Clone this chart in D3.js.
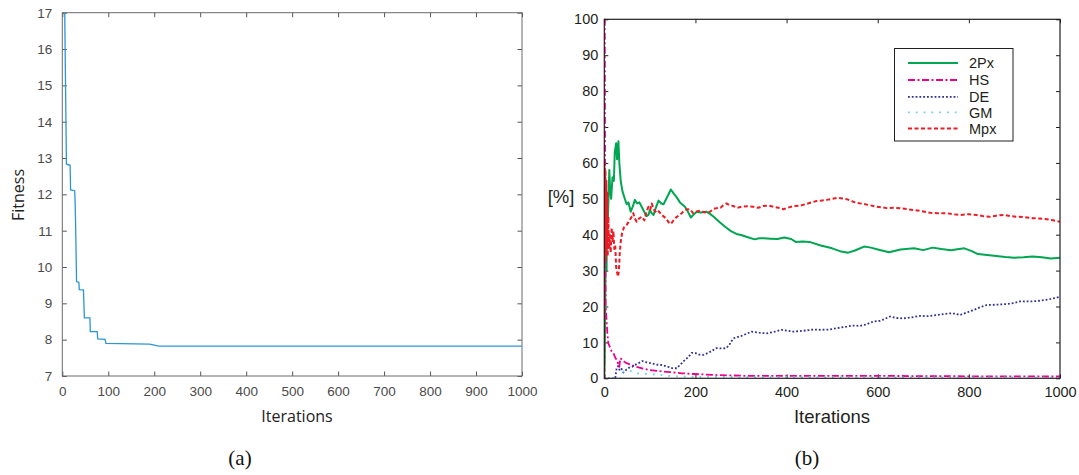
<!DOCTYPE html>
<html><head><meta charset="utf-8">
<script src="https://cdn.jsdelivr.net/npm/d3@7"></script>
<style>html,body{margin:0;padding:0;background:#fff;}svg{display:block;}</style>
</head><body>
<script>
// ---------- Data: panel (a) ----------
const fitIter = [5, 9, 17, 18, 27, 28, 29, 31, 36, 37, 46, 48, 60, 61, 76, 77, 93, 95, 190, 210, 1000];
const fitVal  = [17.3, 12.83, 12.8, 12.12, 12.1, 11.75, 11.15, 9.6, 9.58, 9.38, 9.37, 8.6, 8.6, 8.22, 8.22, 8.02, 8.01, 7.9, 7.88, 7.82, 7.82];
const aXTicks = [0,100,200,300,400,500,600,700,800,900,1000];
const aYTicks = [7,8,9,10,11,12,13,14,15,16,17];

// ---------- Data: panel (b) ----------
const seriesNames = ["2Px", "HS", "DE", "GM", "Mpx"];
const p2xIter = [0,1,2,3,4,5,6,8,11,13,15,18,21,23,26,28,31,33,36,40,45,49,53,58,63,67,72,77,82,89,93,97,100,104,108,113,119,125,130,138,146,152,159,166,177,183,190,196,203,212,224,232,240,254,265,278,290,300,315,330,340,350,365,380,395,410,420,435,450,475,500,520,535,550,570,585,600,625,650,680,700,720,740,760,790,805,820,850,880,900,920,940,960,980,1000];
const p2xVal  = [0,5,20,35,45,30,50,45,58,52,50,56,55,63,65.5,61,66,60,55,52,50,48.5,49,46.4,48,49.7,48.7,49,47.8,46,45.2,45.5,46.9,46,45.5,47.5,49.5,48.7,48.5,50.5,52.6,51.5,50.4,49,47.8,46.5,44.8,45.6,46.4,46.2,46.4,45.8,45,43.4,42.2,41,40.2,39.9,39.3,38.7,39,39,38.9,38.8,39.2,38.8,38,38.1,38,37,36.2,35.3,35,35.6,36.7,36.4,35.9,35.1,35.9,36.2,35.7,36.4,36,35.7,36.2,35.5,34.6,34.2,33.8,33.6,33.7,33.9,33.7,33.4,33.6];
const hsIter = [0,1,2,3,5,7,9,12,16,20,24,27,30,33,35,38,44,49,60,71,85,100,120,144,170,195,250,305,400,500,634,800,1000];
const hsVal  = [100,100,40,20,16,12,9.7,8.8,7.5,7,5.8,5.1,4.2,3.2,5.6,5.3,4.6,4.2,3.7,3.2,2.7,2.3,2,1.7,1.4,1.2,0.9,0.7,0.65,0.65,0.65,0.55,0.5];
const deIter = [0,24,25.7,27,30,34,38,42,49,55,61,67,75,83.5,90,104,115,126,140,150,159,165,177,185,192,200,208,217,230,246,258,268,275,283,292,301,312,323,340,356,372,389,400,415,435,459,475,495,512,532,545,561,575,590,605,615,627,640,656,675,693,710,729,745,759,770,780,795,810,825,839,860,883,900,912,935,956,980,1000];
const deVal  = [0,0,1.6,2.8,3.4,2.1,2.6,1.6,2.5,3,3.2,3.7,4.2,4.8,4.5,4.2,3.8,3.7,3.2,2.8,2.8,3.6,5.1,6,7.1,7,6.6,6.5,7.2,8.4,8.3,8.4,9.5,11.1,11.5,11.8,12.4,13,12.7,12.5,12.9,13.5,13.3,13,13.2,13.6,13.5,13.6,14,14.4,14.7,14.6,15,15.8,16,16.5,17.2,16.8,16.7,17,17.4,17.3,17.6,17.9,18.1,18,17.6,18.3,19,19.8,20.4,20.5,20.7,21,21.4,21.4,21.6,22.1,22.7];
const gmIter = [0,38,42,53,62,71,85,97,126,148,200,400,700,1000];
const gmVal  = [0,0,1.9,2.3,1.8,1.4,1.3,1.2,0.9,0.6,0.4,0.3,0.25,0.2];
const mpxIter = [0,0.5,1.5,2.5,3.5,4.5,5.5,6.5,7.5,9,10,12,14,16,18,20,22,24,26,28,30,32,34,36,39,43,49,53,56,60,63.6,67,71,76,82,88,93,97,101,104,109,115,120,126,135,141,146,152,159,166,173,180,188,195,203,210,220,232,240,246,255,262,268,275,283,292,301,315,327,338,349,360,371,382,393,405,415,430,444,455,466,477,488,500,513,522,532,546,556,568,583,598,610,620,635,649,665,678,695,715,730,751,765,780,800,817,830,846,860,876,890,905,920,941,955,971,985,1000];
const mpxVal  = [0,60,35,58,33,55,36,52,34,45,36,40,35,42,38,41,36,37,31,29.5,28.3,30,35,38,40.4,42,42.7,43.5,44.1,45,46,44.5,43.6,44.5,45,44,46.5,47.8,47,48.7,47,46,46.5,45.5,44.6,43.5,43,44,45,45.5,46.4,47,47.1,46,46.5,46.7,46.2,46.4,47.2,47.4,47.5,48.3,48.7,48.2,48,47.5,47.8,47.9,47.8,47.5,48,48.1,47.8,47.5,47.1,47.6,48,48.1,48.6,49,49.4,49.5,49.7,50,50.3,50.1,49.9,49.2,48.8,48.6,48.2,47.8,47.6,47.4,47.5,47.4,47.1,46.9,46.6,46.1,46,46,45.7,45.5,45.7,45.5,45.2,45,45.3,45.5,45.2,45,44.9,44.6,44.5,44.3,44,43.6];
const bXTicks = [0,200,400,600,800,1000];
const bYTicks = [0,10,20,30,40,50,60,70,80,90,100];

// ---------- Setup ----------
const W = 1079, H = 475;
const svg = d3.select("body").append("svg").attr("width", W).attr("height", H);

// ===== Panel (a) =====
const a = {l: 62.3, r: 522, t: 12.7, b: 376};
const ax = d3.scaleLinear().domain([0, 1000]).range([a.l, a.r]);
const ay = d3.scaleLinear().domain([7, 17]).range([a.b, a.t]);
const gA = svg.append("g");
svg.append("clipPath").attr("id", "clipA").append("rect")
  .attr("x", a.l).attr("y", a.t).attr("width", a.r - a.l).attr("height", a.b - a.t);

const aTickColor = "#555";
const aTextColor = "#4a4a4a";
function styleA(g) {
  g.select(".domain").remove();
  g.selectAll(".tick line").attr("stroke", aTickColor).attr("stroke-width", 1);
  g.selectAll(".tick text").attr("fill", aTextColor)
    .style("font-family", "'Liberation Sans', Arial, sans-serif").style("font-size", "13.5px");
}
gA.append("g").attr("transform", `translate(0,${a.b})`)
  .call(d3.axisBottom(ax).tickValues(aXTicks).tickSizeInner(-4.5).tickSizeOuter(0).tickPadding(10).tickFormat(d3.format("d")))
  .call(styleA);
gA.append("g").attr("transform", `translate(0,${a.t})`)
  .call(d3.axisTop(ax).tickValues(aXTicks).tickSizeInner(-4.5).tickSizeOuter(0).tickFormat(""))
  .call(styleA);
gA.append("g").attr("transform", `translate(${a.l},0)`)
  .call(d3.axisLeft(ay).tickValues(aYTicks).tickSizeInner(-4.5).tickSizeOuter(0).tickPadding(10).tickFormat(d3.format("d")))
  .call(styleA);
gA.append("g").attr("transform", `translate(${a.r},0)`)
  .call(d3.axisRight(ay).tickValues(aYTicks).tickSizeInner(-4.5).tickSizeOuter(0).tickFormat(""))
  .call(styleA);
gA.append("rect").attr("x", a.l).attr("y", a.t).attr("width", a.r - a.l).attr("height", a.b - a.t)
  .attr("fill", "none").attr("stroke", "#6a6a6a").attr("stroke-width", 1);

const fitData = fitIter.map((d, i) => [d, fitVal[i]]);
gA.append("path").datum(fitData).attr("clip-path", "url(#clipA)")
  .attr("d", d3.line().x(d => ax(d[0])).y(d => ay(d[1])))
  .attr("fill", "none").attr("stroke", "#2a96d6").attr("stroke-width", 1.3);

gA.append("text").attr("x", 297).attr("y", 422).attr("text-anchor", "middle")
  .style("font-family", "'Open Sans', sans-serif").style("font-size", "16px").attr("fill", "#222")
  .text("Iterations");
gA.append("text").attr("transform", "translate(24,195) rotate(-90)").attr("text-anchor", "middle")
  .style("font-family", "'Open Sans', sans-serif").style("font-size", "16px").attr("fill", "#222")
  .text("Fitness");

// ===== Panel (b) =====
const b = {l: 604.3, r: 1060, t: 19.3, b: 378.3};
const bx = d3.scaleLinear().domain([0, 1000]).range([b.l, b.r]);
const by = d3.scaleLinear().domain([0, 100]).range([b.b, b.t]);
const gB = svg.append("g");
svg.append("clipPath").attr("id", "clipB").append("rect")
  .attr("x", b.l).attr("y", b.t - 1).attr("width", b.r - b.l).attr("height", b.b - b.t + 1);

function styleB(g) {
  g.select(".domain").remove();
  g.selectAll(".tick line").attr("stroke", "#231f20").attr("stroke-width", 1);
  g.selectAll(".tick text").attr("fill", "#231f20")
    .style("font-family", "'Liberation Sans', Arial, sans-serif").style("font-size", "14.5px");
}
gB.append("g").attr("transform", `translate(0,${b.b})`)
  .call(d3.axisBottom(bx).tickValues(bXTicks).tickSizeInner(-4).tickSizeOuter(0).tickPadding(8).tickFormat(d3.format("d")))
  .call(styleB);
gB.append("g").attr("transform", `translate(0,${b.t})`)
  .call(d3.axisTop(bx).tickValues(bXTicks).tickSizeInner(-4).tickSizeOuter(0).tickFormat(""))
  .call(styleB);
gB.append("g").attr("transform", `translate(${b.l},0)`)
  .call(d3.axisLeft(by).tickValues(bYTicks).tickSizeInner(-4).tickSizeOuter(0).tickPadding(6).tickFormat(d3.format("d")))
  .call(styleB);
gB.append("g").attr("transform", `translate(${b.r},0)`)
  .call(d3.axisRight(by).tickValues(bYTicks).tickSizeInner(-4).tickSizeOuter(0).tickFormat(""))
  .call(styleB);

const seriesData = [
  {name: "2Px", it: p2xIter, v: p2xVal, color: "#00a651", dash: null, w: 2},
  {name: "HS",  it: hsIter,  v: hsVal,  color: "#ec008c", dash: "7,2.5,2,2.5", w: 1.8},
  {name: "DE",  it: deIter,  v: deVal,  color: "#2e3192", dash: "1.8,2", w: 1.8},
  {name: "GM",  it: gmIter,  v: gmVal,  color: "#6dcff6", dash: "1.8,6", w: 1.8},
  {name: "Mpx", it: mpxIter, v: mpxVal, color: "#ed1c24", dash: "4,2.5", w: 2}
];
const lineB = d3.line().x(d => bx(d[0])).y(d => by(d[1]));
const gLines = gB.append("g").attr("clip-path", "url(#clipB)");
seriesData.forEach(s => {
  const pts = s.it.map((d, i) => [d, s.v[i]]);
  gLines.append("path").datum(pts).attr("d", lineB)
    .attr("fill", "none").attr("stroke", s.color).attr("stroke-width", s.w)
    .attr("stroke-dasharray", s.dash).attr("stroke-linejoin", "round");
});

gB.append("rect").attr("x", b.l).attr("y", b.t).attr("width", b.r - b.l).attr("height", b.b - b.t)
  .attr("fill", "none").attr("stroke", "#231f20").attr("stroke-width", 1.2);

// legend
const lg = {x: 894.5, y: 48.5, w: 118.5, h: 92.5};
const gL = gB.append("g");
gL.append("rect").attr("x", lg.x).attr("y", lg.y).attr("width", lg.w).attr("height", lg.h)
  .attr("fill", "#fff").attr("stroke", "#231f20").attr("stroke-width", 1);
const rowY = [63, 80, 96.8, 112.3, 128.5];
seriesData.forEach((s, i) => {
  gL.append("line").attr("x1", 908).attr("x2", 958).attr("y1", rowY[i]).attr("y2", rowY[i])
    .attr("stroke", s.color).attr("stroke-width", s.w).attr("stroke-dasharray", s.dash);
  gL.append("text").attr("x", 969).attr("y", rowY[i] + 5.2)
    .style("font-family", "'Liberation Sans', Arial, sans-serif").style("font-size", "14.5px")
    .attr("fill", "#231f20").text(seriesNames[i]);
});

gB.append("text").attr("x", 832).attr("y", 423).attr("text-anchor", "middle")
  .style("font-family", "'Liberation Sans', Arial, sans-serif").style("font-size", "18.5px").attr("fill", "#231f20")
  .text("Iterations");
gB.append("text").attr("x", 561).attr("y", 203).attr("text-anchor", "middle")
  .style("font-family", "'Liberation Sans', Arial, sans-serif").style("font-size", "18.5px").attr("fill", "#231f20")
  .text("[%]");

// captions
svg.append("text").attr("x", 240).attr("y", 465).attr("text-anchor", "middle")
  .style("font-family", "'Liberation Serif', 'DejaVu Serif', serif").style("font-size", "21px").attr("fill", "#111")
  .text("(a)");
svg.append("text").attr("x", 807).attr("y", 465).attr("text-anchor", "middle")
  .style("font-family", "'Liberation Serif', 'DejaVu Serif', serif").style("font-size", "21px").attr("fill", "#111")
  .text("(b)");
</script>
</body></html>
